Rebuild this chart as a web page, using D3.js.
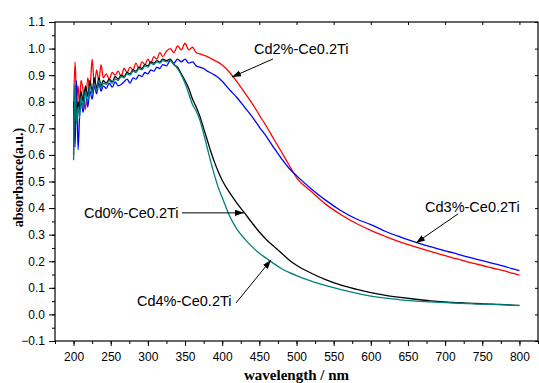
<!DOCTYPE html>
<html><head><meta charset="utf-8">
<script src="https://cdn.jsdelivr.net/npm/d3@7"></script>
<style>
html,body{margin:0;padding:0;background:#fff;}
svg{display:block;}
</style></head>
<body>
<svg id="chart" width="539" height="383"></svg>
<script>
const wavelengths = [200,202,204,206,208,210,213,216,219,222,225,228,231,234,237,240,
 244,248,252,256,260,264,268,272,276,280,284,288,292,296,300,304,308,312,316,320,
 325,330,335,340,345,350,355,360,365,370,375,380,385,390,395,400,
 410,420,430,440,450,460,470,480,490,500,
 520,540,560,580,600,620,640,660,680,700,
 710,720,730,740,750,760,770,780,790,800];

const cd2 = [0.78,0.95,0.82,0.86,0.79,0.88,
 0.84,0.77,0.89,0.85,0.96,0.86,0.92,0.88,0.94,0.89,
 0.905,0.885,0.91,0.90,0.915,0.895,0.925,0.91,0.93,0.92,0.945,0.925,0.95,0.94,0.96,0.945,0.97,0.96,0.985,0.97,
 0.99,1.00,0.985,1.01,0.995,1.02,0.995,1.005,0.985,0.98,0.975,0.97,0.962,0.955,0.948,0.938,
 0.91,0.875,0.835,0.795,0.75,0.705,0.657,0.61,0.562,0.515,
 0.462,0.413,0.375,0.343,0.316,0.293,0.272,0.254,0.237,0.221,
 0.213,0.206,0.198,0.191,0.184,0.177,0.170,0.164,0.155,0.148];

const cd3 = [0.80,0.63,0.88,0.62,0.74,0.80,
 0.76,0.85,0.78,0.84,0.81,0.86,0.83,0.87,0.84,0.86,
 0.85,0.87,0.855,0.875,0.86,0.865,0.875,0.885,0.87,0.89,0.885,0.90,0.895,0.91,0.905,0.92,0.915,0.93,0.925,0.94,
 0.935,0.955,0.945,0.96,0.95,0.96,0.945,0.95,0.935,0.93,0.925,0.915,0.908,0.90,0.89,0.877,
 0.845,0.815,0.78,0.745,0.705,0.667,0.625,0.585,0.55,0.522,
 0.472,0.428,0.39,0.36,0.338,0.312,0.291,0.272,0.255,0.239,
 0.232,0.224,0.216,0.209,0.202,0.195,0.188,0.181,0.172,0.165];

const cd0 = [0.60,0.86,0.74,0.80,0.77,0.84,
 0.80,0.86,0.82,0.88,0.84,0.89,0.85,0.89,0.86,0.88,
 0.87,0.885,0.875,0.895,0.885,0.90,0.895,0.91,0.905,0.92,0.915,0.93,0.925,0.94,0.935,0.95,0.945,0.955,0.95,0.96,
 0.955,0.96,0.94,0.93,0.905,0.88,0.85,0.81,0.78,0.745,0.70,0.655,0.61,0.57,0.535,0.505,
 0.458,0.418,0.382,0.345,0.31,0.28,0.255,0.23,0.205,0.185,
 0.155,0.13,0.11,0.095,0.082,0.072,0.064,0.057,0.051,0.047,
 0.045,0.044,0.042,0.041,0.040,0.039,0.038,0.037,0.035,0.034];

const cd4 = [0.58,0.87,0.72,0.78,0.74,0.82,
 0.78,0.84,0.80,0.86,0.83,0.87,0.84,0.88,0.85,0.87,
 0.865,0.88,0.87,0.885,0.88,0.895,0.89,0.905,0.90,0.915,0.91,0.925,0.92,0.935,0.93,0.945,0.94,0.95,0.945,0.955,
 0.95,0.955,0.94,0.925,0.90,0.87,0.83,0.79,0.765,0.73,0.68,0.625,0.57,0.52,0.475,0.44,
 0.37,0.32,0.285,0.255,0.23,0.21,0.19,0.172,0.158,0.146,
 0.125,0.108,0.093,0.08,0.069,0.061,0.055,0.05,0.047,0.044,
 0.043,0.042,0.041,0.040,0.039,0.038,0.037,0.036,0.035,0.033];

const seriesNames = ["Cd2%-Ce0.2Ti","Cd3%-Ce0.2Ti","Cd0%-Ce0.2Ti","Cd4%-Ce0.2Ti"];
const seriesValues = [cd2, cd3, cd0, cd4];
const seriesColors = ["#ff0000","#0000ff","#000000","#008080"];

const xTicks = [200,250,300,350,400,450,500,550,600,650,700,750,800];
const yTicks = [-0.1,0.0,0.1,0.2,0.3,0.4,0.5,0.6,0.7,0.8,0.9,1.0,1.1];

// annotations: label anchor (wavelength, absorbance), arrow tail and tip in data units
const annoLabels = ["Cd2%-Ce0.2Ti","Cd3%-Ce0.2Ti","Cd0%-Ce0.2Ti","Cd4%-Ce0.2Ti"];
const annoTextPos = [[442.8,0.98],[673,0.385],[214,0.363],[285.3,0.032]];
const annoTail = [[468.4,0.961],[717.3,0.378],[345.9,0.382],[418.6,0.043]];
const annoTip = [[413.2,0.893],[660.8,0.269],[429.3,0.382],[465.7,0.205]];

const W = 539, H = 383;
const m = {left:55, right:1, top:22, bottom:42};
const svg = d3.select("#chart");
const x = d3.scaleLinear().domain([175,825]).range([m.left, W - m.right]);
const y = d3.scaleLinear().domain([-0.1,1.1]).range([H - m.bottom, m.top]);

const defs = svg.append("defs");
defs.append("clipPath").attr("id","clip").append("rect")
  .attr("x", m.left).attr("y", m.top).attr("width", W-m.right-m.left).attr("height", H-m.bottom-m.top);
defs.append("marker").attr("id","arrow").attr("viewBox","0 0 10 10")
  .attr("refX",10).attr("refY",5).attr("markerWidth",9).attr("markerHeight",9)
  .attr("markerUnits","userSpaceOnUse").attr("orient","auto")
  .append("path").attr("d","M0,1.5 L10,5 L0,8.5 Z").attr("fill","#000");

// series lines
const line = d3.line().x(d => x(d[0])).y(d => y(d[1])).curve(d3.curveMonotoneX);
const g = svg.append("g").attr("clip-path","url(#clip)");
seriesValues.forEach((vals, i) => {
  const pts = wavelengths.map((w, j) => [w, vals[j]]);
  g.append("path").datum(pts).attr("d", line)
    .attr("fill","none").attr("stroke", seriesColors[i]).attr("stroke-width",1.3)
    .attr("stroke-linejoin","round");
});

// axes
const tickFont = "Liberation Sans, Arial, sans-serif";
const xMinor = d3.range(175, 826, 25);
const yMinor = d3.range(-0.1, 1.1001, 0.05);

function styleAxis(sel){
  sel.select(".domain").remove();
  sel.selectAll("line").attr("stroke","#000").attr("stroke-width",1);
  sel.selectAll("text").attr("font-family", tickFont).attr("font-size","12px").attr("fill","#000");
}
// bottom
svg.append("g").attr("transform",`translate(0,${H-m.bottom})`)
  .call(d3.axisBottom(x).tickValues(xMinor).tickSize(3).tickFormat(""))
  .call(styleAxis);
svg.append("g").attr("transform",`translate(0,${H-m.bottom})`)
  .call(d3.axisBottom(x).tickValues(xTicks).tickSize(5).tickPadding(6).tickFormat(d3.format("d")))
  .call(styleAxis);
// left
svg.append("g").attr("transform",`translate(${m.left},0)`)
  .call(d3.axisLeft(y).tickValues(yMinor).tickSize(3).tickFormat(""))
  .call(styleAxis);
svg.append("g").attr("transform",`translate(${m.left},0)`)
  .call(d3.axisLeft(y).tickValues(yTicks).tickSize(6).tickPadding(4).tickFormat(d3.format(".1f")))
  .call(styleAxis);
// top (inward)
svg.append("g").attr("transform",`translate(0,${m.top})`)
  .call(d3.axisBottom(x).tickValues(xTicks).tickSize(3).tickFormat(""))
  .call(styleAxis);
// right (inward)
svg.append("g").attr("transform",`translate(${W-m.right},0)`)
  .call(d3.axisLeft(y).tickValues(yTicks).tickSize(3).tickFormat(""))
  .call(styleAxis);

// frame
svg.append("rect").attr("x", m.left).attr("y", m.top)
  .attr("width", W-m.right-m.left).attr("height", H-m.bottom-m.top)
  .attr("fill","none").attr("stroke","#000").attr("stroke-width",1.2);

// axis titles
svg.append("text").attr("x", x(500)).attr("y", 380)
  .attr("text-anchor","middle").attr("font-family","Liberation Serif, Times New Roman, serif")
  .attr("font-weight","bold").attr("font-size","15px").text("wavelength / nm");
svg.append("text").attr("transform",`translate(23,${(m.top + H - m.bottom)/2 - 4}) rotate(-90)`)
  .attr("text-anchor","middle").attr("font-family","Liberation Serif, Times New Roman, serif")
  .attr("font-weight","bold").attr("font-size","14px").text("absorbance(a.u.)");

// annotations
annoLabels.forEach((lab, i) => {
  svg.append("text").attr("x", x(annoTextPos[i][0])).attr("y", y(annoTextPos[i][1]))
    .attr("font-family", tickFont).attr("font-size","14.5px").attr("fill","#000").text(lab);
  svg.append("line")
    .attr("x1", x(annoTail[i][0])).attr("y1", y(annoTail[i][1]))
    .attr("x2", x(annoTip[i][0])).attr("y2", y(annoTip[i][1]))
    .attr("stroke","#000").attr("stroke-width",1).attr("marker-end","url(#arrow)");
});
</script>
</body></html>
